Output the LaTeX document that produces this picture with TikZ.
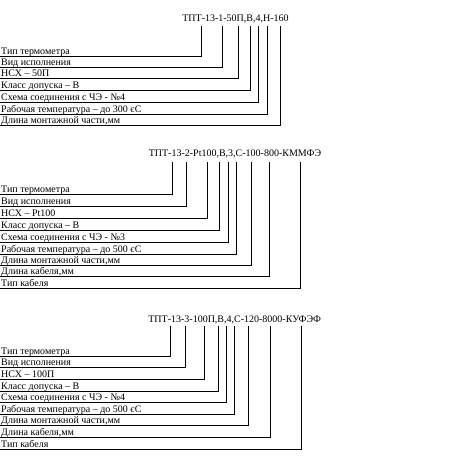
\documentclass[tikz,border=0pt]{standalone}
\usepackage{fontspec}
\setmainfont{Liberation Serif}
\begin{document}
\begin{tikzpicture}[x=1bp,y=-1bp,
  lbl/.style={anchor=base west,inner sep=0pt,font=\fontsize{10bp}{12bp}\selectfont},
  ttl/.style={anchor=base,inner sep=0pt,font=\fontsize{10bp}{12bp}\selectfont},
  lead/.style={line width=1bp,black}]
\useasboundingbox (0,0) rectangle (468,460);
% Block 1
\node[ttl] (t1) at (235.5,22) {ТПТ-13-1-50П,В,4,Н-160};
\foreach \i/\x/\y/\txt in {
  1/201.7/56.7/{Тип термометра},
  2/222.7/67.7/{Вид исполнения},
  3/238.3/79/{НСХ – 50П},
  4/250.7/91/{Класс допуска – В},
  5/258.3/103/{Схема соединения с ЧЭ - №4},
  6/267.3/115/{Рабочая температура – до 300 єС},
  7/280/126/{Длина монтажной части,мм}}{
  \coordinate (a\i) at (\x,26);
  \coordinate (b\i) at (0,\y);
  \node[lbl] (la\i) at (1,\y-2) {\txt};
  \draw[lead] (a\i) |- (b\i);
}
% Block 2
\node[ttl] (t2) at (235,157) {ТПТ-13-2-Pt100,В,3,С-100-800-КММФЭ};
\foreach \i/\x/\y/\txt in {
  1/172.7/195/{Тип термометра},
  2/186.7/206.7/{Вид исполнения},
  3/207.3/219/{НСХ – Pt100},
  4/219.3/230.7/{Класс допуска – В},
  5/228.3/242.3/{Схема соединения с ЧЭ - №3},
  6/236.7/254/{Рабочая температура – до 500 єС},
  7/251/265/{Длина монтажной части,мм},
  8/269/276.7/{Длина кабеля,мм},
  9/300.7/288.3/{Тип кабеля}}{
  \coordinate (c\i) at (\x,162);
  \coordinate (d\i) at (0,\y);
  \node[lbl] (lb\i) at (1,\y-2) {\txt};
  \draw[lead] (c\i) |- (d\i);
}
% Block 3
\node[ttl] (t3) at (234.7,322.5) {ТПТ-13-3-100П,В,4,С-120-8000-КУФЭФ};
\foreach \i/\x/\y/\txt in {
  1/170.7/356/{Тип термометра},
  2/185/367.7/{Вид исполнения},
  3/204/379/{НСХ – 100П},
  4/218.3/391/{Класс допуска – В},
  5/226.7/402.3/{Схема соединения с ЧЭ - №4},
  6/234.3/414.3/{Рабочая температура – до 500 єС},
  7/248.3/425.7/{Длина монтажной части,мм},
  8/270/437.3/{Длина кабеля,мм},
  9/301.7/449/{Тип кабеля}}{
  \coordinate (e\i) at (\x,326);
  \coordinate (f\i) at (0,\y);
  \node[lbl] (lc\i) at (1,\y-2) {\txt};
  \draw[lead] (e\i) |- (f\i);
}
\end{tikzpicture}
\end{document}
